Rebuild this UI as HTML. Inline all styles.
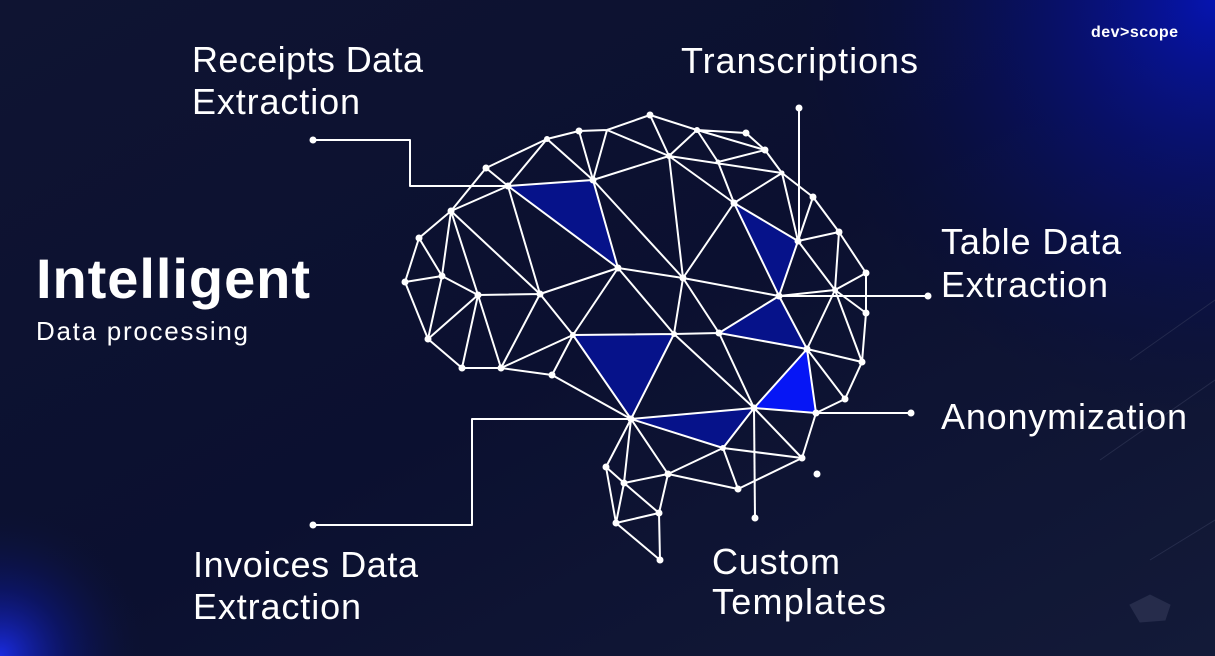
<!DOCTYPE html>
<html><head><meta charset="utf-8"><style>
html,body{margin:0;padding:0;width:1215px;height:656px;overflow:hidden;background:#0d1330}
svg{display:block}
text{font-family:"Liberation Sans",sans-serif;fill:#fff}
</style></head><body>
<svg width="1215" height="656" viewBox="0 0 1215 656" xmlns="http://www.w3.org/2000/svg">
<defs>
<linearGradient id="bg" x1="0" y1="0" x2="1" y2="1">
<stop offset="0" stop-color="#0f1432"/><stop offset="0.5" stop-color="#0b1030"/><stop offset="1" stop-color="#131a38"/>
</linearGradient>
<radialGradient id="tr" cx="1215" cy="0" r="420" gradientUnits="userSpaceOnUse">
<stop offset="0" stop-color="#0614b0"/><stop offset="0.5" stop-color="#070f70" stop-opacity="0.6"/><stop offset="1" stop-color="#050a40" stop-opacity="0"/>
</radialGradient>
<radialGradient id="bl" cx="0" cy="656" r="150" gradientUnits="userSpaceOnUse">
<stop offset="0" stop-color="#1a2be0"/><stop offset="0.45" stop-color="#0d1890" stop-opacity="0.5"/><stop offset="1" stop-color="#0d1330" stop-opacity="0"/>
</radialGradient>
</defs>
<rect width="1215" height="656" fill="url(#bg)"/>
<rect width="1215" height="656" fill="url(#tr)"/>
<rect width="1215" height="656" fill="url(#bl)"/>
<g stroke="#3a4060" stroke-width="1" fill="none" opacity="0.5">
<path d="M1130 360 L1215 300 M1100 460 L1215 380 M1150 560 L1215 520"/>
<polygon points="1130,605 1150,595 1170,605 1165,620 1140,622" fill="#3a4060"/>
</g>
<text x="1091" y="37" font-size="16" font-weight="bold" textLength="87">dev&gt;scope</text>
<text x="36" y="298" font-size="56" font-weight="bold" textLength="274">Intelligent</text>
<text x="36" y="340" font-size="26" textLength="212">Data processing</text>
<g font-size="36">
<text x="192" y="72" textLength="231">Receipts Data</text>
<text x="192" y="114" textLength="168">Extraction</text>
<text x="681" y="73" textLength="237">Transcriptions</text>
<text x="941" y="254" textLength="180">Table Data</text>
<text x="941" y="297" textLength="167">Extraction</text>
<text x="941" y="429" textLength="246">Anonymization</text>
<text x="193" y="577" textLength="225">Invoices Data</text>
<text x="193" y="619" textLength="168">Extraction</text>
<text x="712" y="574" textLength="128">Custom</text>
<text x="712" y="614" textLength="174">Templates</text>
</g>
<g fill="#06128a">
<polygon points="508,186 593,180 618,268"/>
<polygon points="573,335 674,334 631,419"/>
<polygon points="734,203 798,241 779,296"/>
<polygon points="719,333 779,296 807,349"/>
<polygon points="631,419 754,408 723,448"/>
</g>
<polygon points="754,408 807,349 816,413" fill="#0616f5"/>
<g stroke="#fff" stroke-width="2" fill="none" stroke-linejoin="round">
<polyline points="313,140 410,140 410,186 508,186"/>
<polyline points="799,108 799,241"/>
<polyline points="779,296 928,296"/>
<polyline points="816,413 911,413"/>
<polyline points="631,419 472,419 472,525 313,525"/>
<polyline points="754,408 755,518"/>
<path d="
M405,282 L419,238 M405,282 L442,276 M405,282 L428,339 M419,238 L442,276 M419,238 L451,211 M442,276 L428,339 M442,276 L478,295 M451,211 L442,276 M451,211 L478,295 M451,211 L540,294 M451,211 L486,168 M451,211 L508,186
M428,339 L478,295 M428,339 L462,368 M462,368 L501,368 M462,368 L478,295 M478,295 L540,294 M478,295 L501,368 M501,368 L540,294 M501,368 L573,335 M501,368 L552,375 M552,375 L573,335 M552,375 L631,419
M486,168 L508,186 M486,168 L547,139 M508,186 L547,139 M547,139 L593,180 M508,186 L593,180 M508,186 L540,294 M508,186 L618,268 M593,180 L618,268 M593,180 L579,131 M593,180 L683,278 M593,180 L669,156 M547,139 L579,131 M579,131 L607,130 M607,130 L593,180 M607,130 L669,156 M607,130 L650,115 M650,115 L669,156 M650,115 L697,130
M697,130 L669,156 M697,130 L718,162 M697,130 L746,133 M697,130 L765,150 M746,133 L765,150 M669,156 L782,173 M718,162 L765,150 M718,162 L734,203 M669,156 L734,203 M669,156 L683,278 M765,150 L782,173 M782,173 L734,203 M782,173 L813,197 M782,173 L798,241 M813,197 L798,241 M813,197 L839,232 M798,241 L839,232 M734,203 L798,241 M734,203 L779,296 M734,203 L683,278 M798,241 L779,296 M798,241 L835,290 M839,232 L835,290 M839,232 L866,273
M540,294 L618,268 M540,294 L573,335 M618,268 L683,278 M618,268 L573,335 M618,268 L674,334 M683,278 L674,334 M683,278 L779,296 M683,278 L719,333 M573,335 L674,334 M674,334 L719,333 M573,335 L631,419 M674,334 L631,419 M674,334 L754,408
M719,333 L779,296 M719,333 L807,349 M719,333 L754,408 M779,296 L807,349 M779,296 L835,290 M835,290 L866,273 M835,290 L866,313 M835,290 L807,349 M835,290 L862,362 M866,273 L866,313 M866,313 L862,362 M807,349 L862,362 M807,349 L754,408 M807,349 L816,413 M807,349 L845,399 M862,362 L845,399 M845,399 L816,413 M754,408 L816,413
M631,419 L754,408 M631,419 L723,448 M754,408 L723,448 M754,408 L802,458 M816,413 L802,458 M723,448 L802,458 M723,448 L738,489 M802,458 L738,489 M723,448 L668,474 M668,474 L738,489
M631,419 L606,467 M631,419 L624,483 M631,419 L668,474 M606,467 L624,483 M606,467 L616,523 M624,483 L668,474 M624,483 L616,523 M624,483 L659,513 M668,474 L659,513 M659,513 L616,523 M616,523 L660,560 M659,513 L660,560
"/>
</g>
<g fill="#fff">
<circle cx="313" cy="140" r="3.5"/><circle cx="799" cy="108" r="3.5"/><circle cx="928" cy="296" r="3.5"/><circle cx="911" cy="413" r="3.5"/><circle cx="313" cy="525" r="3.5"/><circle cx="755" cy="518" r="3.5"/><circle cx="817" cy="474" r="3.5"/>
<circle cx="650" cy="115" r="3.5"/><circle cx="579" cy="131" r="3.5"/><circle cx="697" cy="130" r="3"/><circle cx="746" cy="133" r="3.5"/><circle cx="765" cy="150" r="3.5"/><circle cx="669" cy="156" r="3"/><circle cx="547" cy="139" r="3"/><circle cx="486" cy="168" r="3.5"/><circle cx="593" cy="180" r="3.5"/><circle cx="508" cy="186" r="3.5"/><circle cx="718" cy="162" r="2.5"/><circle cx="782" cy="173" r="2.5"/><circle cx="734" cy="203" r="3.5"/><circle cx="813" cy="197" r="3.5"/><circle cx="451" cy="211" r="3.5"/><circle cx="798" cy="241" r="3.5"/><circle cx="839" cy="232" r="3.5"/><circle cx="419" cy="238" r="3.5"/><circle cx="618" cy="268" r="3.5"/><circle cx="683" cy="278" r="3.5"/><circle cx="442" cy="276" r="3.5"/><circle cx="866" cy="273" r="3.5"/><circle cx="405" cy="282" r="3.5"/><circle cx="478" cy="295" r="3.5"/><circle cx="540" cy="294" r="3.5"/><circle cx="779" cy="296" r="3.5"/><circle cx="835" cy="290" r="3"/><circle cx="866" cy="313" r="3.5"/><circle cx="573" cy="335" r="3"/><circle cx="674" cy="334" r="3"/><circle cx="719" cy="333" r="3.5"/><circle cx="428" cy="339" r="3.5"/><circle cx="807" cy="349" r="3.5"/><circle cx="462" cy="368" r="3.5"/><circle cx="501" cy="368" r="3.5"/><circle cx="552" cy="375" r="3.5"/><circle cx="862" cy="362" r="3.5"/><circle cx="845" cy="399" r="3.5"/><circle cx="631" cy="419" r="3.5"/><circle cx="754" cy="408" r="3.5"/><circle cx="816" cy="413" r="3.5"/><circle cx="723" cy="448" r="3"/><circle cx="802" cy="458" r="3.5"/><circle cx="606" cy="467" r="3.5"/><circle cx="624" cy="483" r="3.5"/><circle cx="668" cy="474" r="3.5"/><circle cx="738" cy="489" r="3.5"/><circle cx="659" cy="513" r="3.5"/><circle cx="616" cy="523" r="3.5"/><circle cx="660" cy="560" r="3.5"/>
</g>
</svg>
</body></html>
